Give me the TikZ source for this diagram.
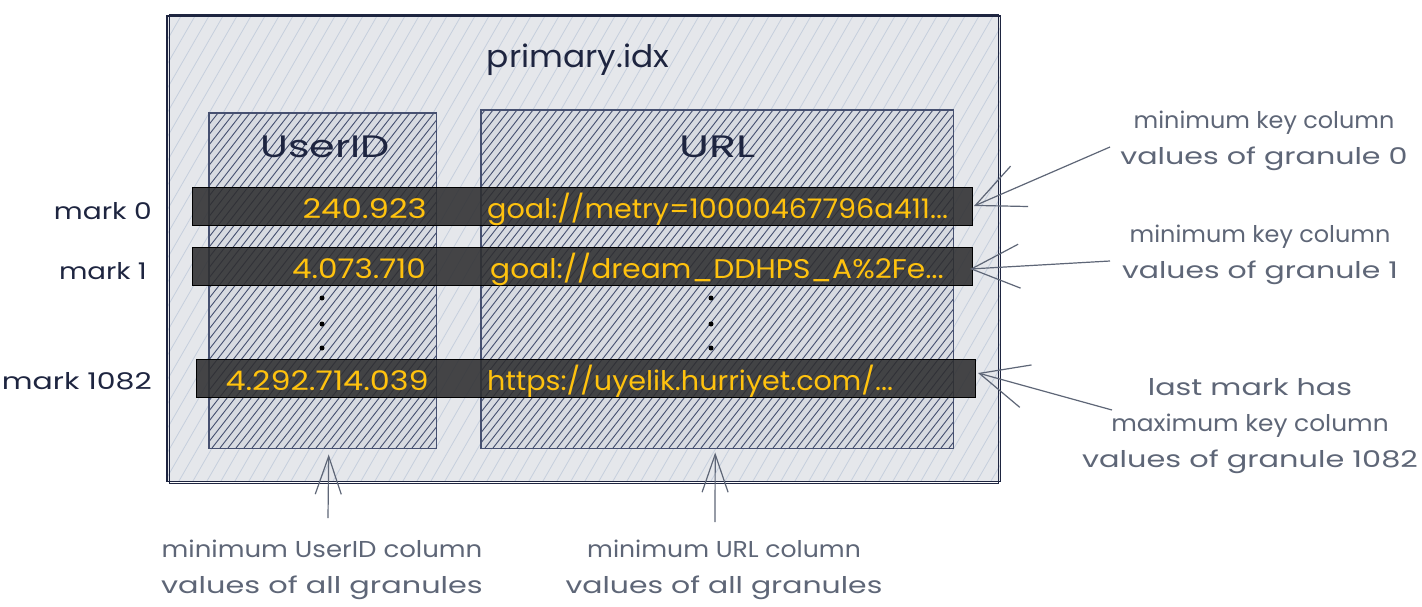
\documentclass[tikz,border=0pt]{standalone}
\usepackage{fontspec}
\setmainfont{Poppins}
\usetikzlibrary{arrows.meta}
\definecolor{navy}{HTML}{1E2540}
\definecolor{anno}{HTML}{5E6677}
\definecolor{gold}{HTML}{FFC20E}
\definecolor{outerfill}{HTML}{E5E7EB}
\definecolor{outerhatch}{HTML}{C6CFDD}
\definecolor{innerfill}{HTML}{D8DBE1}
\definecolor{innerhatch}{HTML}{465070}
\definecolor{barfill}{HTML}{2E2E30}
\newcommand\sx[2]{{\addfontfeature{FakeStretch=#1}#2}}
\tikzset{
  outerbox/.style={fill=outerfill, inner sep=0pt},
  outerline/.style={draw=outerhatch, line width=0.8pt},
  outerborder/.style={draw=navy, line width=1.7pt},
  sketchborder/.style={draw=navy, line width=0.7pt},
  colbox/.style={fill=innerfill, inner sep=0pt},
  innerline/.style={draw=innerhatch, line width=0.9pt},
  colborder/.style={draw=innerhatch, line width=1.1pt},
  barbox/.style={draw=black, line width=1pt, fill=barfill, fill opacity=0.88, anchor=west, minimum height=38pt, inner sep=0pt},
  bartext/.style={text=gold, font=\fontsize{27}{30}\selectfont, inner sep=0pt},
  marklbl/.style={text=navy, font=\fontsize{23}{26}\selectfont, anchor=east, inner sep=0pt},
  head/.style={text=navy, font=\fontsize{31}{34}\selectfont, inner sep=0pt},
  annot/.style={text=anno, font=\fontsize{23}{36}\selectfont, align=center, inner sep=0pt},
  dotmark/.style={circle, fill=black, minimum size=5pt, inner sep=0pt},
  ptr/.style={draw=anno, line width=1.2pt, -{Straight Barb[length=48pt,width=44pt,line width=1.2pt]}},
  ptrup/.style={draw=anno, line width=1.2pt, -{Straight Barb[length=38pt,width=26pt,line width=1.2pt]}},
}
\begin{document}
\begin{tikzpicture}[x=1pt,y=-1pt]
\useasboundingbox[fill=white] (0,0) rectangle (1422,606);
% outer box
\node[outerbox, anchor=north west, minimum width=833pt, minimum height=465pt] (outer) at (167,16) {};
\begin{scope}
\clip (outer.south west) rectangle (outer.north east);
\foreach \x in {-101,-87,...,1000} \draw[outerline] (\x,481) -- ++(268,-465);
\end{scope}
\draw[outerborder] (outer.south west) rectangle (outer.north east);
\draw[sketchborder] ([shift={(2pt,-1.5pt)}]outer.south west) rectangle ([shift={(-2pt,2pt)}]outer.north east);
\node[head] (title) at (578,60) {\sx{1.06}{primary.idx}};
% column boxes
\node[colbox, anchor=north west, minimum width=227pt, minimum height=335pt] (uidbox) at (209,113) {};
\node[colbox, anchor=north west, minimum width=472pt, minimum height=338pt] (urlbox) at (481,110) {};
\begin{scope}
\clip (uidbox.south west) rectangle (uidbox.north east);
\foreach \x in {-60,-52,...,440} \draw[innerline] (\x,448) -- ++(262,-335);
\end{scope}
\begin{scope}
\clip (urlbox.south west) rectangle (urlbox.north east);
\foreach \x in {213,221,...,960} \draw[innerline] (\x,448) -- ++(264,-338);
\end{scope}
\draw[colborder] (uidbox.south west) rectangle (uidbox.north east);
\draw[colborder] (urlbox.south west) rectangle (urlbox.north east);
\node[head] (uidhead) at (325,147) {\sx{1.33}{UserID}};
\node[head] (urlhead) at (718,147) {\sx{1.43}{URL}};
% bars
\node[barbox, minimum width=780pt] (bar0) at (192,206) {};
\node[barbox, minimum width=780pt] (bar1) at (192,266) {};
\node[barbox, minimum width=779pt] (bar2) at (196,378) {};
% bar texts
\node[bartext, anchor=east] (uid0) at (427,209) {\sx{1.2}{240.923}};
\node[bartext, anchor=west] (url0) at (487,209) {\sx{1.06}{goal://metry=10000467796a411...}};
\node[bartext, anchor=east] (uid1) at (426,269) {\sx{1.15}{4.073.710}};
\node[bartext, anchor=west] (url1) at (490,269) {\sx{1.1}{goal://dream\_DDHPS\_A\%2Fe...}};
\node[bartext, anchor=east] (uid2) at (429,381) {\sx{1.18}{4.292.714.039}};
\node[bartext, anchor=west] (url2) at (487,381) {\sx{1.06}{https://uyelik.hurriyet.com/...}};
% dots
\node[dotmark] (d1) at (322,298) {};
\node[dotmark] (d2) at (322,324) {};
\node[dotmark] (d3) at (322,348) {};
\node[dotmark] (e1) at (711,298) {};
\node[dotmark] (e2) at (711,324) {};
\node[dotmark] (e3) at (711,348) {};
% mark labels
\node[marklbl] (m0) at (152,211) {\sx{1.22}{mark 0}};
\node[marklbl] (m1) at (147,271) {\sx{1.2}{mark 1}};
\node[marklbl] (m2) at (152,381) {\sx{1.3}{mark 1082}};
% annotations
\node[annot] (a0) at (1264,141) {\sx{1.04}{minimum key column}\\\sx{1.31}{values of granule 0}};
\node[annot] (a1) at (1260,255) {\sx{1.04}{minimum key column}\\\sx{1.3}{values of granule 1}};
\node[annot] (a2) at (1250,426) {\sx{1.31}{last mark has}\\\sx{1.08}{maximum key column}\\\sx{1.32}{values of granule 1082}};
\node[annot] (b0) at (322,570) {\sx{1.13}{minimum UserID column}\\\sx{1.32}{values of all granules}};
\node[annot] (b1) at (724,570) {\sx{1.09}{minimum URL column}\\\sx{1.3}{values of all granules}};
% pointer tails
\coordinate (t0) at (1110,147);
\coordinate (t1) at (1110,261);
\coordinate (t2) at (1112,410);
\coordinate (t3) at (328,518);
\coordinate (t4) at (715,522);
% pointers
\draw[ptr] (t0) -- ([xshift=1pt]bar0.east);
\draw[ptr] (t1) -- ([xshift=-3pt,yshift=-3pt]bar1.east);
\draw[ptr] (t2) -- ([xshift=2pt,yshift=5pt]bar2.east);
\draw[ptrup] (t3) -- ([xshift=6pt,yshift=-6pt]uidbox.south);
\draw[ptrup] (t4) -- ([xshift=-2pt,yshift=-4pt]urlbox.south);
\end{tikzpicture}
\end{document}
